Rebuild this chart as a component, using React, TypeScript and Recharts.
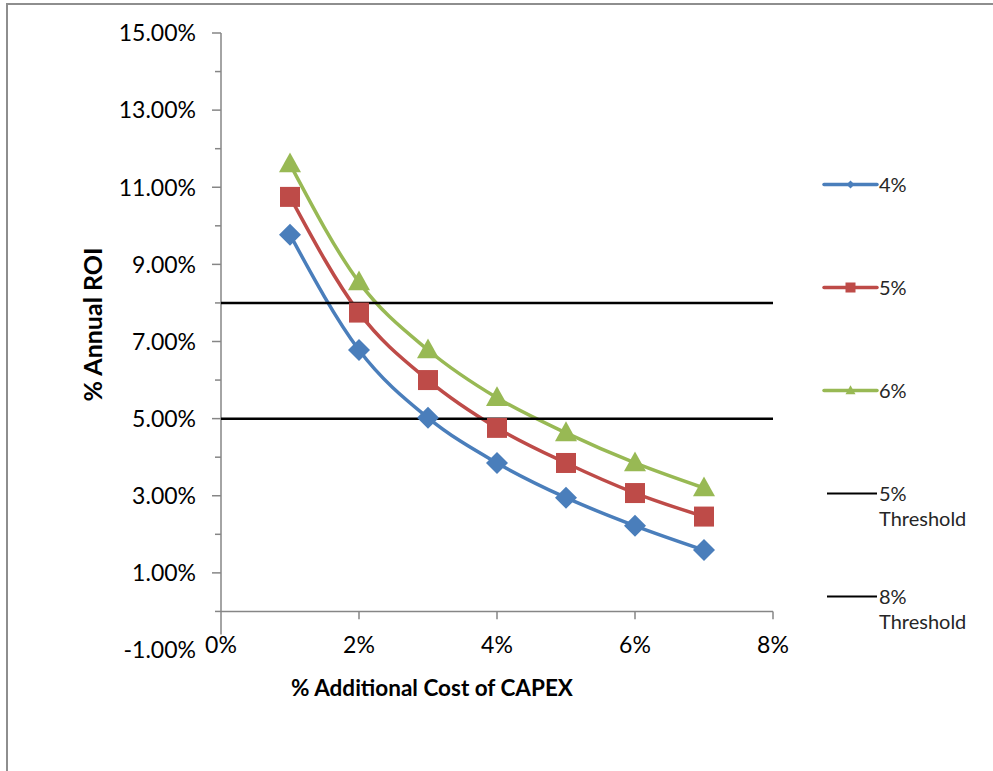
import React from "react";
import {
  ComposedChart,
  Line,
  XAxis,
  YAxis,
  Legend,
  ReferenceLine,
  Label,
} from "recharts";

// % additional CAPEX cost (x) and annual ROI (%) per escalation rate
const capexPct = [1, 2, 3, 4, 5, 6, 7];
const roi4 = [9.77, 6.78, 5.02, 3.85, 2.95, 2.22, 1.59];
const roi5 = [10.75, 7.75, 6.0, 4.76, 3.85, 3.07, 2.46];
const roi6 = [11.6, 8.54, 6.78, 5.54, 4.63, 3.85, 3.2];

const thresholdX = [0, 8];
const threshold5 = [5, 5];
const threshold8 = [8, 8];

const xTicks = [0, 2, 4, 6, 8];
const yTicks = [-1, 0, 1, 2, 3, 4, 5, 6, 7, 8, 9, 10, 11, 12, 13, 14, 15];
const legendOrder = ["r4", "r5", "r6", "t5", "t8"];

const BLUE = "#4A7EBB";
const RED = "#BE4B48";
const GREEN = "#98B954";
const AXIS = "#868686";
const FONT = "Lato, 'Noto Sans', sans-serif";

const rows = capexPct.map((x, i) => ({ x, r4: roi4[i], r5: roi5[i], r6: roi6[i] }));
const thresholdRows = thresholdX.map((x, i) => ({ x, t5: threshold5[i], t8: threshold8[i] }));

const shapeByKey: Record<string, string> = { r4: "diamond", r5: "square", r6: "triangle" };

function marker(shape: string, cx: number, cy: number, r: number, color: string, key?: string) {
  if (shape === "diamond") {
    return (
      <path key={key} d={`M${cx},${cy - r}L${cx + r},${cy}L${cx},${cy + r}L${cx - r},${cy}Z`} fill={color} />
    );
  }
  if (shape === "square") {
    return <rect key={key} x={cx - r} y={cy - r} width={r * 2} height={r * 2} fill={color} />;
  }
  if (shape === "triangle") {
    return (
      <path
        key={key}
        d={`M${cx},${cy - r * 1.05}L${cx + r},${cy + r * 0.75}L${cx - r},${cy + r * 0.75}Z`}
        fill={color}
      />
    );
  }
  return null;
}

function dotFor(shape: string, color: string, r: number) {
  return (props: any) => {
    const { cx, cy, index } = props;
    if (cx == null || cy == null) return <g key={`${shape}-${index}`} />;
    return marker(shape, cx, cy, r, color, `${shape}-${index}`);
  };
}

function YTick(props: any) {
  const { x, y, payload } = props;
  const v = payload.value as number;
  const major = Math.abs(v % 2) === 1;
  return (
    <g>
      {v >= 0 && (
        <line x1={x - (major ? 9 : 6)} x2={x} y1={y} y2={y} stroke={AXIS} strokeWidth={1.5} />
      )}
      {major && (
        <text x={x - 25} y={y} dy="0.36em" textAnchor="end" fontFamily={FONT} fontSize={23} fill="#000">
          {v.toFixed(2)}%
        </text>
      )}
    </g>
  );
}

function XTick(props: any) {
  const { x, y, payload } = props;
  return (
    <text x={x} y={y + 3} textAnchor="middle" fontFamily={FONT} fontSize={23} fill="#000">
      {payload.value}%
    </text>
  );
}

function LegendBox(props: any) {
  const items = [...(props.payload || [])].sort(
    (a: any, b: any) => legendOrder.indexOf(a.dataKey) - legendOrder.indexOf(b.dataKey)
  );
  return (
    <div style={{ position: "relative", width: 170, height: 520, fontFamily: FONT }}>
      {items.map((item: any, i: number) => {
        const shape = shapeByKey[item.dataKey as string];
        const isThreshold = !shape;
        return (
          <div
            key={item.value}
            style={{ position: "absolute", left: 0, top: 42 + i * 103, display: "flex", alignItems: "flex-start" }}
          >
            <svg width={58} height={25} style={{ display: "block" }}>
              <line
                x1={isThreshold ? 5 : 2}
                x2={55}
                y1={12.5}
                y2={12.5}
                stroke={item.color}
                strokeWidth={isThreshold ? 2 : 3.5}
                strokeLinecap={isThreshold ? "butt" : "round"}
              />
              {shape && marker(shape, 28.5, 12.5, shape === "diamond" ? 4 : 5, item.color)}
            </svg>
            <div style={{ width: 100, fontSize: 20, lineHeight: "25px", color: "#262626", marginLeft: -1 }}>
              {item.value}
            </div>
          </div>
        );
      })}
    </div>
  );
}

export default function App() {
  return (
    <div style={{ position: "absolute", left: 0, top: 0, width: 993, height: 771, background: "#fff", overflow: "hidden" }}>
      <div
        style={{
          position: "absolute",
          left: 6,
          top: 3,
          width: 1000,
          height: 800,
          borderTop: "2px solid #8e8e8e",
          borderLeft: "2px solid #8e8e8e",
        }}
      />
      <ComposedChart width={993} height={771} margin={{ top: 33, right: 220, bottom: 91, left: 0 }}>
        <XAxis
          type="number"
          dataKey="x"
          domain={[0, 8]}
          ticks={xTicks}
          interval={0}
          axisLine={false}
          tickLine={false}
          tickSize={0}
          tickMargin={0}
          height={30}
          tick={<XTick />}
        >
          <Label
            content={(p: any) => {
              const vb = p.viewBox;
              return (
                <text
                  x={vb.x + vb.width / 2 - 65}
                  y={vb.y + 46}
                  textAnchor="middle"
                  fontFamily={FONT}
                  fontWeight={700}
                  fontSize={22.5}
                  fill="#000"
                >
                  % Additional Cost of CAPEX
                </text>
              );
            }}
          />
        </XAxis>
        <YAxis
          type="number"
          domain={[-1, 15]}
          ticks={yTicks}
          interval={0}
          width={221}
          axisLine={false}
          tickLine={false}
          tickSize={0}
          tickMargin={0}
          tick={<YTick />}
        >
          <Label
            content={(p: any) => {
              const vb = p.viewBox;
              const cx = vb.x + 93;
              const cy = vb.y + vb.height / 2 - 17;
              return (
                <text
                  x={cx}
                  y={cy}
                  dy="0.35em"
                  transform={`rotate(-90 ${cx} ${cy})`}
                  textAnchor="middle"
                  fontFamily={FONT}
                  fontWeight={700}
                  fontSize={25}
                  fill="#000"
                >
                  % Annual ROI
                </text>
              );
            }}
          />
        </YAxis>

        <ReferenceLine segment={[{ x: 0, y: -0.6 }, { x: 0, y: 15 }]} stroke={AXIS} strokeWidth={1.5} ifOverflow="visible" />
        <ReferenceLine segment={[{ x: 0, y: 0 }, { x: 8, y: 0 }]} stroke={AXIS} strokeWidth={1.5} ifOverflow="visible" />
        {xTicks.slice(1).map((t) => (
          <ReferenceLine
            key={t}
            segment={[{ x: t, y: 0 }, { x: t, y: -0.2 }]}
            stroke={AXIS}
            strokeWidth={1.5}
            ifOverflow="visible"
          />
        ))}

        <Legend
          layout="vertical"
          align="center"
          verticalAlign="middle"
          wrapperStyle={{ left: 822, top: 130, width: 170, height: 520 }}
          content={<LegendBox />}
        />

        <Line
          data={rows}
          dataKey="r4"
          name="4%"
          type="monotone"
          stroke={BLUE}
          strokeWidth={3.5}
          dot={dotFor("diamond", BLUE, 11)}
          activeDot={false}
          isAnimationActive={false}
        />
        <Line
          data={rows}
          dataKey="r5"
          name="5%"
          type="monotone"
          stroke={RED}
          strokeWidth={3.5}
          dot={dotFor("square", RED, 10)}
          activeDot={false}
          isAnimationActive={false}
        />
        <Line
          data={rows}
          dataKey="r6"
          name="6%"
          type="monotone"
          stroke={GREEN}
          strokeWidth={3.5}
          dot={dotFor("triangle", GREEN, 11)}
          activeDot={false}
          isAnimationActive={false}
        />
        <Line
          data={thresholdRows}
          dataKey="t5"
          name="5% Threshold"
          type="linear"
          stroke="#000"
          strokeWidth={2.5}
          dot={false}
          activeDot={false}
          isAnimationActive={false}
        />
        <Line
          data={thresholdRows}
          dataKey="t8"
          name="8% Threshold"
          type="linear"
          stroke="#000"
          strokeWidth={2.5}
          dot={false}
          activeDot={false}
          isAnimationActive={false}
        />
      </ComposedChart>
    </div>
  );
}
